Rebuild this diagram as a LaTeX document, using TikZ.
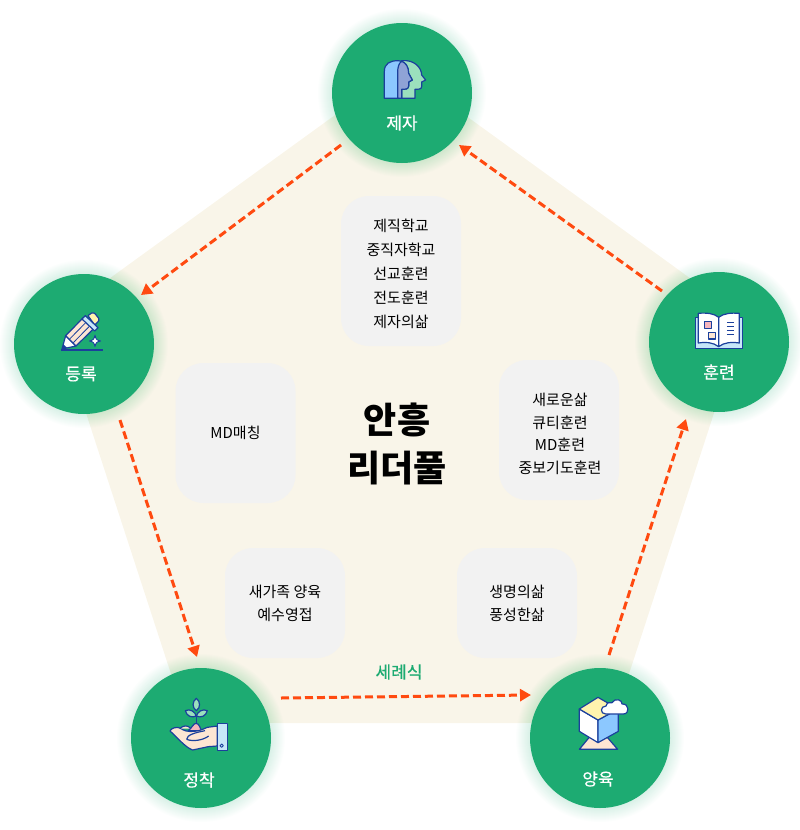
\documentclass[tikz,border=0pt]{standalone}
\usepackage{fontspec}
\setmainfont{Noto Sans CJK KR}
\newfontfamily\midfont[FakeBold=0.35]{Noto Sans CJK KR}
\usetikzlibrary{arrows.meta,backgrounds}

\definecolor{jade}{HTML}{1DAB72}
\definecolor{sand}{HTML}{F9F5E9}
\definecolor{boxgray}{HTML}{F2F2F2}
\definecolor{flame}{HTML}{FF4A10}
\definecolor{ink}{HTML}{1B409C}
\definecolor{skyblue}{HTML}{8CC8FF}
\definecolor{palesky}{HTML}{C6E7F8}
\definecolor{mint}{HTML}{9BE0BD}
\definecolor{dusk}{HTML}{8FA3D6}
\definecolor{butter}{HTML}{FFF3AE}
\definecolor{peach}{HTML}{FDE6D3}
\definecolor{rose}{HTML}{F5B5BD}

\tikzset{
  stage/.style={circle, fill=jade, minimum size=140pt, inner sep=0pt},
  stagelabel/.style={text=white, font=\midfont\fontsize{17}{20}\selectfont},
  card/.style={rectangle, rounded corners=28pt, fill=boxgray, inner sep=0pt, align=center,
    font=\fontsize{15}{23}\selectfont},
  cardtext/.style={inner sep=0pt, align=center},
  flow/.style={flame, line width=3pt, dash pattern=on 8pt off 4pt, -{Triangle[length=11pt,width=12pt]}},
  icon/.style={draw=ink, line width=1.2pt, line join=round},
}

\begin{document}
\begin{tikzpicture}[x=1pt,y=-1pt]
\useasboundingbox (0,0) rectangle (800,830);

%stages
\node[stage] (jeja) at (402,93) {};
\node[stage] (deungrok) at (84,344) {};
\node[stage] (hunryeon) at (719,342) {};
\node[stage] (jeongchak) at (201,738) {};
\node[stage] (yangyuk) at (600,738) {};

%labels
\node[stagelabel] (jejatxt) at (402,123) {제자};
\node[stagelabel] (deungroktxt) at (81,374) {등록};
\node[stagelabel] (hunryeontxt) at (719,372) {훈련};
\node[stagelabel] (jeongchaktxt) at (199,780) {정착};
\node[stagelabel] (yangyuktxt) at (598,779) {양육};

%cards
\node[card, minimum width=120pt, minimum height=150pt] (cardjeja) at (401,271) {};
\node[cardtext, font=\fontsize{15}{24}\selectfont] (txtjeja) at (401,274)
  {제직학교\\중직자학교\\선교훈련\\전도훈련\\제자의삶};
\node[card, minimum width=120pt, minimum height=140pt] (cardmd) at (235.5,433) {MD매칭};
\node[card, minimum width=120pt, minimum height=140pt] (cardhun) at (559,430) {};
\node[cardtext, font=\fontsize{15}{22.5}\selectfont] (txthun) at (560,434)
  {새로운삶\\큐티훈련\\MD훈련\\중보기도훈련};
\node[card, minimum width=120pt, minimum height=110pt] (cardsae) at (285,603)
  {새가족 양육\\예수영접};
\node[card, minimum width=120pt, minimum height=110pt] (cardsaeng) at (517,603)
  {생명의삶\\풍성한삶};

%title
\node[align=center, font=\fontsize{36}{48}\bfseries\selectfont] (title) at (397,444) {안흥\\리더풀};
\node[text=jade, font=\midfont\fontsize{17}{20}\selectfont] (baptism) at (399,672) {세례식};

%arrows
\coordinate (a1) at (341,145);
\coordinate (a2) at (141,295);
\coordinate (b1) at (120,420);
\coordinate (b2) at (197,657);
\coordinate (c1) at (281,698);
\coordinate (c2) at (531,695);
\coordinate (d1) at (609,655);
\coordinate (d2) at (686,419);
\coordinate (e1) at (662,291);
\coordinate (e2) at (459,145);
\draw[flow] (a1) -- (a2);
\draw[flow] (b1) -- (b2);
\draw[flow] (c1) -- (c2);
\draw[flow] (d1) -- (d2);
\draw[flow] (e1) -- (e2);

%pentagon and glow
\begin{pgfonlayer}{background}
\fill[sand, rounded corners=14pt] (400,68) -- (745,318) -- (613,723) -- (187,723) -- (55,318) -- cycle;
\foreach \n in {jeja,deungrok,hunryeon,jeongchak,yangyuk}
  \foreach \r in {71,...,84}
    \fill[jade, opacity=0.013] (\n) circle (\r);
\end{pgfonlayer}

%two heads
\begin{scope}[shift={(320,10)},x=0.3333pt,y=-0.3333pt]
\draw[icon, fill=mint] (245,152) .. controls (285,148) and (305,175) .. (305,195) -- (317,210) -- (305,216) -- (305,230) .. controls (305,238) and (295,238) .. (285,238) -- (285,265) -- (240,265) -- cycle;
\draw[icon, fill=skyblue] (193,265) -- (193,185) .. controls (193,160) and (210,152) .. (235,152) .. controls (255,152) and (266,170) .. (266,190) -- (277,210) -- (266,216) -- (266,228) .. controls (266,238) and (255,238) .. (245,238) -- (245,265) -- cycle;
\draw[icon, fill=dusk] (245,154) .. controls (258,158) and (266,172) .. (266,190) -- (277,210) -- (266,216) -- (266,228) .. controls (266,238) and (255,238) .. (245,238) -- (245,265) -- (233,265) -- (233,185) .. controls (233,170) and (238,158) .. (245,154) -- cycle;
\end{scope}

%pencil
\begin{scope}[shift={(0,265)},x=0.3333pt,y=-0.3333pt]
\draw[ink, line width=1.3pt] (184,255) -- (308,255);
\draw[icon, fill=white] (186,252) -- (197,212) -- (228,243) -- cycle;
\fill[ink] (186,252) -- (190,238) -- (201,248) -- cycle;
\draw[icon, fill=peach] (197,212) -- (250,158) -- (282,190) -- (228,243) -- cycle;
\draw[ink, line width=0.8pt] (209,222) -- (260,170) (220,233) -- (270,182);
\draw[icon, fill=butter] (264,152) -- (275,144) .. controls (280,142) and (284,145) .. (286,147) -- (296,160) .. controls (298,166) and (296,168) .. (294,170) -- (284,180) -- cycle;
\draw[icon, fill=palesky] (246,162) -- (256,152) -- (294,188) -- (284,198) -- cycle;
\draw[icon, fill=white, line width=0.9pt] (285,210) .. controls (287,222) and (290,226) .. (302,228) .. controls (290,230) and (287,234) .. (285,245) .. controls (283,234) and (280,230) .. (268,228) .. controls (280,226) and (283,222) .. (285,210) -- cycle;
\end{scope}

%book
\begin{scope}[shift={(640,265)},x=0.3333pt,y=-0.3333pt]
\draw[icon, fill=palesky] (166,157) rectangle (308,250);
\draw[icon, fill=white] (236,245) .. controls (220,232) and (195,230) .. (175,234) -- (175,145) .. controls (200,143) and (222,145) .. (236,157) -- cycle;
\draw[icon, fill=white] (236,245) .. controls (252,232) and (277,230) .. (298,234) -- (298,145) .. controls (275,143) and (250,145) .. (236,157) -- cycle;
\draw[icon, fill=rose] (193,169) rectangle (215,190);
\draw[icon, fill=peach] (205,202) rectangle (227,222);
\draw[ink, line width=0.9pt] (261,172) -- (281,172) (261,184) -- (281,184) (261,196) -- (281,196) (261,208) -- (281,208);
\end{scope}

%hand and sprout
\begin{scope}[shift={(120,660)},x=0.3333pt,y=-0.3333pt]
\draw[ink, line width=1.1pt] (229,200) -- (229,165);
\draw[icon, fill=mint] (229,115) .. controls (242,125) and (242,143) .. (229,152) .. controls (216,143) and (216,125) .. (229,115) -- cycle;
\draw[icon, fill=mint] (196,152) .. controls (210,145) and (225,155) .. (229,168) .. controls (215,175) and (200,168) .. (196,152) -- cycle;
\draw[icon, fill=mint] (262,152) .. controls (248,145) and (233,155) .. (229,168) .. controls (243,175) and (258,168) .. (262,152) -- cycle;
\draw[icon, fill=rose] (205,212) .. controls (215,205) and (220,190) .. (228,190) .. controls (238,190) and (240,205) .. (245,212) -- cycle;
\draw[icon, fill=peach] (292,198) -- (262,202) .. controls (250,206) and (245,212) .. (222,214) .. controls (205,216) and (190,212) .. (182,205) .. controls (172,198) and (152,205) .. (150,213) .. controls (170,230) and (195,262) .. (218,270) -- (265,260) -- (292,258) -- cycle;
\draw[icon, fill=peach] (180,206) .. controls (188,196) and (205,194) .. (212,206);
\draw[icon] (200,238) .. controls (200,225) and (225,218) .. (255,212);
\draw[icon] (200,238) .. controls (220,246) and (250,240) .. (266,228);
\draw[icon, fill=palesky] (292,190) rectangle (323,271);
\draw[icon, line width=0.9pt] (305,257) circle (5);
\end{scope}

%cube and cloud
\begin{scope}[shift={(520,660)},x=0.3333pt,y=-0.3333pt]
\draw[icon, fill=peach] (178,268) -- (234,200) -- (293,268) -- cycle;
\draw[icon, fill=white] (178,147) -- (234,180) -- (234,248) -- (178,214) -- cycle;
\draw[icon, fill=skyblue] (234,180) -- (295,147) -- (295,214) -- (234,248) -- cycle;
\draw[icon, fill=butter] (178,147) -- (234,112) -- (295,147) -- (234,180) -- cycle;
\draw[icon, fill=white] (257,162) .. controls (240,162) and (240,138) .. (258,138) .. controls (260,128) and (270,125) .. (276,128) .. controls (285,112) and (308,120) .. (306,132) .. controls (328,130) and (330,162) .. (310,162) -- cycle;
\end{scope}
\end{tikzpicture}
\end{document}
